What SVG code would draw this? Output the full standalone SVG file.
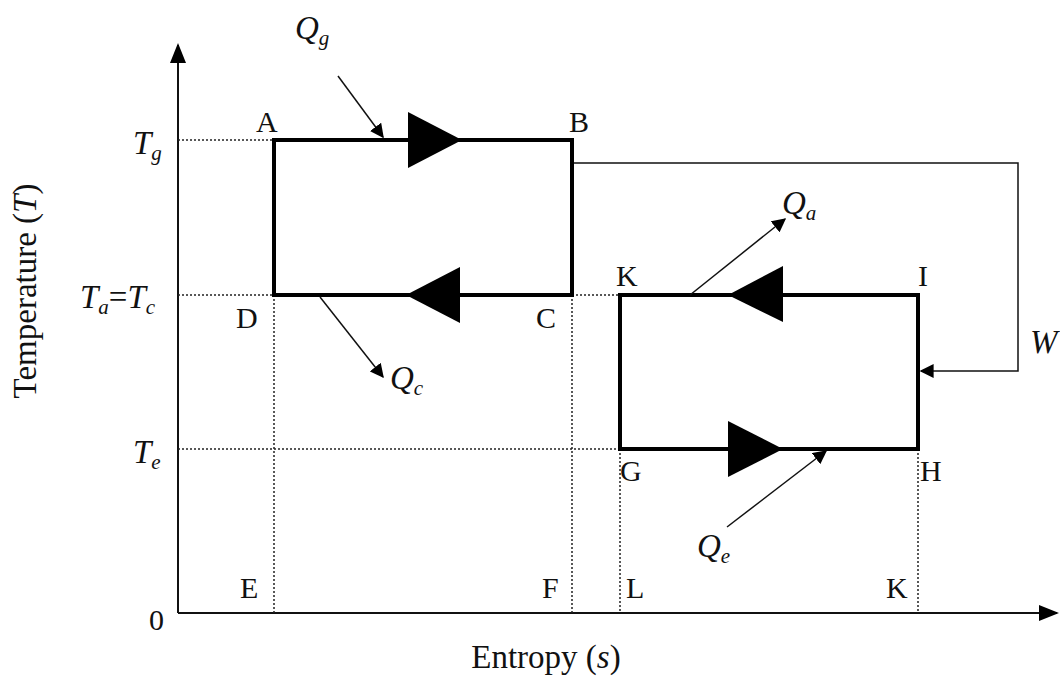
<svg xmlns="http://www.w3.org/2000/svg" width="1060" height="682" viewBox="0 0 1060 682">
<defs>
<style>
.t{font-family:"Liberation Serif","Times New Roman",serif;font-size:30px;fill:#111}
.ttl{font-size:33px}
.m{font-size:33px;font-style:italic}
.i{font-style:italic}
.sub{font-size:21px;font-style:italic}
.ax{stroke:#111;stroke-width:2;fill:none}
.dot{stroke:#222;stroke-width:1.5;stroke-dasharray:2 2;fill:none}
.cyc{stroke:#000;stroke-width:4;fill:none}
.thin{stroke:#111;stroke-width:1.5;fill:none}
.big{fill:#000}
</style>
<marker id="ah" viewBox="0 0 10 10" refX="9" refY="5" markerWidth="14" markerHeight="14" markerUnits="userSpaceOnUse" orient="auto"><path d="M0,0 L10,5 L0,10 z" fill="#000"/></marker>
<marker id="axh" viewBox="0 0 10 10" refX="9" refY="5" markerWidth="20" markerHeight="20" markerUnits="userSpaceOnUse" orient="auto"><path d="M0,1 L10,5 L0,9 z" fill="#000"/></marker>
</defs>
<rect width="1060" height="682" fill="#fff"/>
<g id="axes">
<line class="ax" x1="178" y1="613" x2="178" y2="45" marker-end="url(#axh)"/>
<line class="ax" x1="178" y1="613" x2="1057" y2="613" marker-end="url(#axh)"/>
<text class="t" x="149" y="630">0</text>
<text class="t ttl" x="546" y="668" text-anchor="middle">Entropy (<tspan class="i">s</tspan>)</text>
<text class="t ttl" transform="translate(36,291) rotate(-90)" text-anchor="middle">Temperature (<tspan class="i">T</tspan>)</text>
<text class="t m" x="133" y="154">T<tspan class="sub" dy="6">g</tspan></text>
<text class="t m" x="80" y="308">T<tspan class="sub" dy="6">a</tspan><tspan dy="-6" font-style="normal">=</tspan>T<tspan class="sub" dy="6">c</tspan></text>
<text class="t m" x="133" y="463">T<tspan class="sub" dy="6">e</tspan></text>
</g>
<g id="guides">
<line class="dot" x1="178" y1="140" x2="274" y2="140"/>
<line class="dot" x1="178" y1="295" x2="274" y2="295"/>
<line class="dot" x1="572" y1="295" x2="620" y2="295"/>
<line class="dot" x1="178" y1="449" x2="620" y2="449"/>
<line class="dot" x1="274" y1="295" x2="274" y2="613"/>
<line class="dot" x1="572" y1="295" x2="572" y2="613"/>
<line class="dot" x1="620" y1="449" x2="620" y2="613"/>
<line class="dot" x1="918" y1="449" x2="918" y2="613"/>
</g>
<g id="cycle1">
<rect class="cyc" x="274" y="140" width="298" height="155"/>
<path class="big" d="M408,112 L462,140 L408,168 z"/>
<path class="big" d="M460,267 L406,295 L460,323 z"/>
</g>
<g id="cycle2">
<rect class="cyc" x="620" y="295" width="298" height="154"/>
<path class="big" d="M783,266 L728,295 L783,322 z"/>
<path class="big" d="M728,421 L783,449 L728,477 z"/>
</g>
<g id="connectors">
<line class="thin" x1="338" y1="76" x2="383" y2="137" marker-end="url(#ah)"/>
<line class="thin" x1="320" y1="297" x2="383" y2="377" marker-end="url(#ah)"/>
<line class="thin" x1="690" y1="295" x2="785" y2="219" marker-end="url(#ah)"/>
<line class="thin" x1="727" y1="527" x2="826" y2="451" marker-end="url(#ah)"/>
<path class="thin" d="M574,163 H1018 V371 H921" marker-end="url(#ah)"/>
</g>
<g id="labels">
<text class="t" x="256" y="132">A</text>
<text class="t" x="569" y="132">B</text>
<text class="t" x="236" y="328">D</text>
<text class="t" x="536" y="328">C</text>
<text class="t" x="616" y="286">K</text>
<text class="t" x="918" y="286">I</text>
<text class="t" x="620" y="481">G</text>
<text class="t" x="920" y="481">H</text>
<text class="t" x="240" y="598">E</text>
<text class="t" x="542" y="598">F</text>
<text class="t" x="626" y="598">L</text>
<text class="t" x="886" y="598">K</text>
<text class="t m" x="295" y="39">Q<tspan class="sub" dy="6">g</tspan></text>
<text class="t m" x="390" y="389">Q<tspan class="sub" dy="6">c</tspan></text>
<text class="t m" x="782" y="214">Q<tspan class="sub" dy="6">a</tspan></text>
<text class="t m" x="697" y="557">Q<tspan class="sub" dy="6">e</tspan></text>
<text class="t m" x="1030" y="353">W</text>
</g>
</svg>
